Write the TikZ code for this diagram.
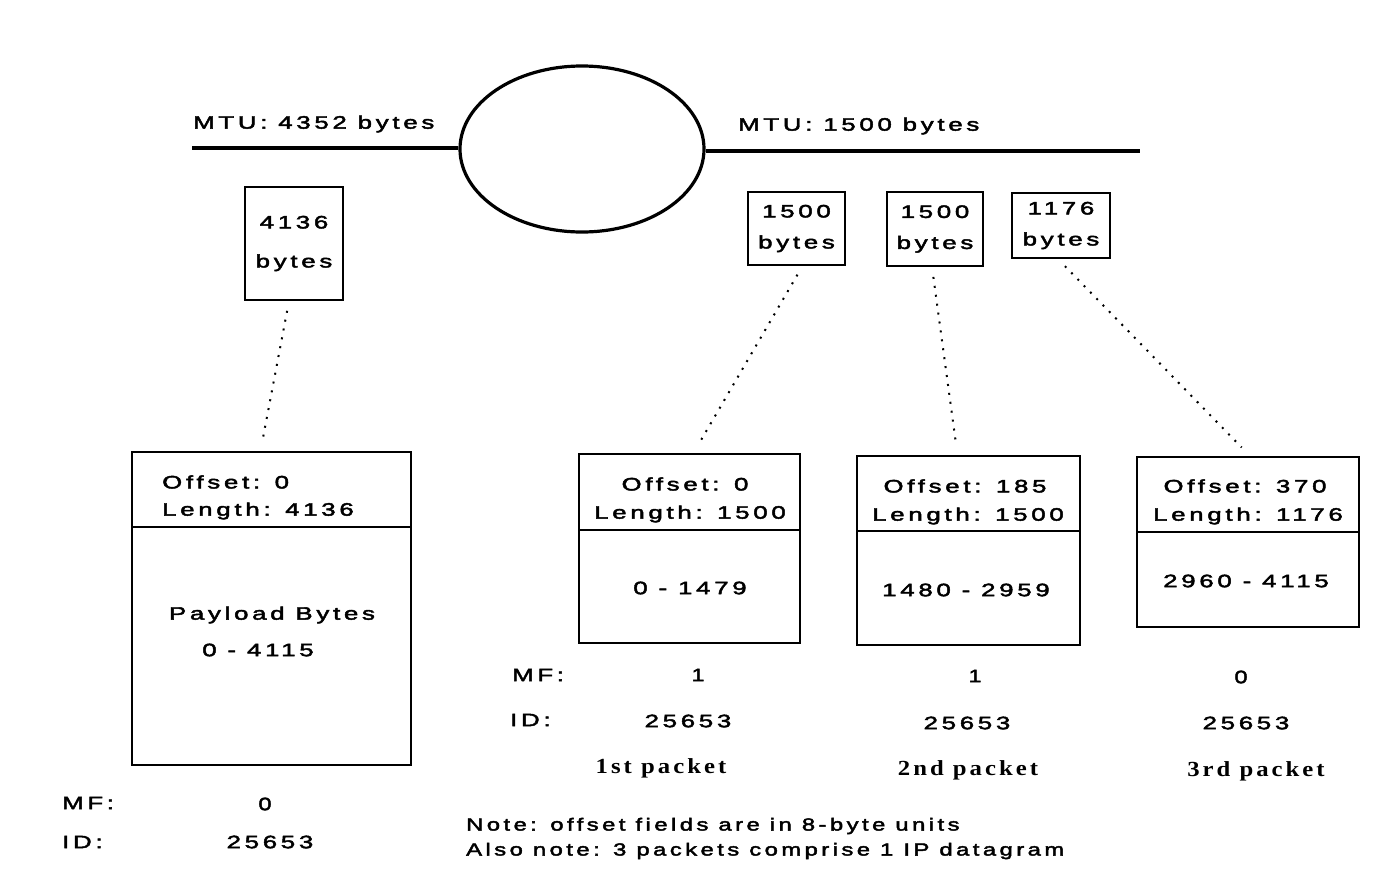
\documentclass[tikz,border=0pt]{standalone}
\usepackage{fontspec}
\usepackage{graphicx}
\usetikzlibrary{calc,shapes.geometric}
\newfontfamily\labelfont[FakeStretch=1.3,LetterSpace=19,FakeBold=2.5]{Liberation Sans}
\newfontfamily\pktfont[FakeStretch=1.15,LetterSpace=14]{Liberation Serif}
\newcommand\wtxt[1]{\scalebox{1.1}[1]{#1}}
\newcommand\ntxt[1]{\scalebox{1.045}[1]{#1}}
\begin{document}
\begin{tikzpicture}[x=1pt,y=-1pt,
  lbl/.style={inner sep=0pt,font=\labelfont\fontsize{18}{22}\selectfont},
  note/.style={inner sep=0pt,font=\labelfont\fontsize{17.5}{22}\selectfont},
  pkt/.style={inner sep=0pt,font=\pktfont\bfseries\fontsize{21.5}{24}\selectfont},
  smallbox/.style={draw,line width=2pt,inner sep=0pt,align=center,font=\labelfont\fontsize{18}{22}\selectfont},
  bigbox/.style={draw,line width=2pt,inner sep=0pt},
  link/.style={line width=3.5pt},
  frag/.style={line width=2pt,dash pattern=on 2pt off 7pt,shorten <=10pt,shorten >=12pt}]
\useasboundingbox (0,0) rectangle (1378,870);

% router between the two networks
\node[draw,ellipse,line width=3.2pt,minimum width=244pt,minimum height=166pt,inner sep=0pt] (router) at (582,149) {};
\coordinate (lnA) at (192,148);
\coordinate (lnB) at (706,151);
\coordinate (lnC) at (1140,151);
\draw[link] (lnA) -- (router.west |- lnA);
\draw[link] (lnB) -- (lnC);
\node[lbl,anchor=west] (mtuL) at (193,124) {\wtxt{MTU: 4352 bytes}};
\node[lbl,anchor=west] (mtuR) at (738,126) {\wtxt{MTU: 1500 bytes}};

% datagram sizes
\node[smallbox,minimum width=98pt,minimum height=113pt,font=\labelfont\fontsize{18}{39}\selectfont] (s1) at (294,243.5) {\wtxt{4136}\\\wtxt{bytes}};
\node[smallbox,minimum width=97pt,minimum height=73pt,font=\labelfont\fontsize{18}{31}\selectfont] (s2) at (796.5,228.5) {\wtxt{1500}\\\wtxt{bytes}};
\node[smallbox,minimum width=96pt,minimum height=74pt,font=\labelfont\fontsize{18}{31}\selectfont] (s3) at (935,229) {\wtxt{1500}\\\wtxt{bytes}};
\node[smallbox,minimum width=98pt,minimum height=65pt,font=\labelfont\fontsize{18}{31}\selectfont] (s4) at (1061,225.5) {\wtxt{1176}\\\wtxt{bytes}};

% original datagram
\node[bigbox,minimum width=279pt,minimum height=313pt] (b0) at (271.5,608.5) {};
\draw[line width=2pt] (b0.west |- 0,527) -- (b0.east |- 0,527);
\node[lbl,anchor=west] (b0off) at (162,482) {\wtxt{Offset: 0}};
\node[lbl,anchor=west] (b0len) at (162,511) {\wtxt{Length: 4136}};
\node[lbl] (b0pay) at (272,615) {\wtxt{Payload Bytes}};
\node[lbl] (b0rng) at (258,650) {\wtxt{0 - 4115}};

% fragments
\node[bigbox,minimum width=221pt,minimum height=189pt] (p1) at (689.5,548.5) {};
\draw[line width=2pt] (p1.west |- 0,530) -- (p1.east |- 0,530);
\node[lbl] (p1off) at (685,484) {\wtxt{Offset: 0}};
\node[lbl] (p1len) at (690,514) {\wtxt{Length: 1500}};
\node[lbl] (p1rng) at (690,588) {\wtxt{0 - 1479}};

\node[bigbox,minimum width=223pt,minimum height=189pt] (p2) at (968.5,550.5) {};
\draw[line width=2pt] (p2.west |- 0,531) -- (p2.east |- 0,531);
\node[lbl] (p2off) at (965,486) {\wtxt{Offset: 185}};
\node[lbl] (p2len) at (968,516) {\wtxt{Length: 1500}};
\node[lbl] (p2rng) at (966,590) {\wtxt{1480 - 2959}};

\node[bigbox,minimum width=222pt,minimum height=170pt] (p3) at (1248,542) {};
\draw[line width=2pt] (p3.west |- 0,532) -- (p3.east |- 0,532);
\node[lbl] (p3off) at (1245,486) {\wtxt{Offset: 370}};
\node[lbl] (p3len) at (1248,516) {\wtxt{Length: 1176}};
\node[lbl] (p3rng) at (1246,581) {\wtxt{2960 - 4115}};

% dotted links from sizes to packets
\draw[frag] ([xshift=-5pt]s1.south) -- ([xshift=-11pt]b0.north);
\draw[frag] ([xshift=6pt]s2.south) -- ([xshift=4pt]p1.north);
\draw[frag] ([xshift=-3pt]s3.south) -- ([xshift=-11pt]p2.north);
\draw[frag] ([xshift=-3pt]s4.south) -- ([xshift=2pt]p3.north);

% header fields of the fragments
\node[lbl,anchor=west] (mfA) at (512,675) {\wtxt{MF:}};
\node[lbl,anchor=west] (idA) at (510,720) {\wtxt{ID:}};
\node[lbl] (mf1) at (698,675) {1};
\node[lbl] (mf2) at (975,676) {1};
\node[lbl] (mf3) at (1241,677) {0};
\node[lbl] (id1) at (688,721) {\wtxt{25653}};
\node[lbl] (id2) at (967,723) {\wtxt{25653}};
\node[lbl] (id3) at (1246,723) {\wtxt{25653}};
\node[pkt] (n1) at (661,768) {1st packet};
\node[pkt] (n2) at (968,770) {2nd packet};
\node[pkt] (n3) at (1256,771) {3rd packet};

% header fields of the original datagram
\node[lbl,anchor=west] (mfB) at (62,803) {\wtxt{MF:}};
\node[lbl,anchor=west] (idB) at (62,842) {\wtxt{ID:}};
\node[lbl] (mf0) at (265,804) {0};
\node[lbl] (id0) at (270,842) {\wtxt{25653}};

% notes
\node[note,anchor=west] (note1) at (466,826) {\ntxt{Note: offset fields are in 8-byte units}};
\node[note,anchor=west] (note2) at (466,851) {\ntxt{Also note: 3 packets comprise 1 IP datagram}};
\end{tikzpicture}
\end{document}
